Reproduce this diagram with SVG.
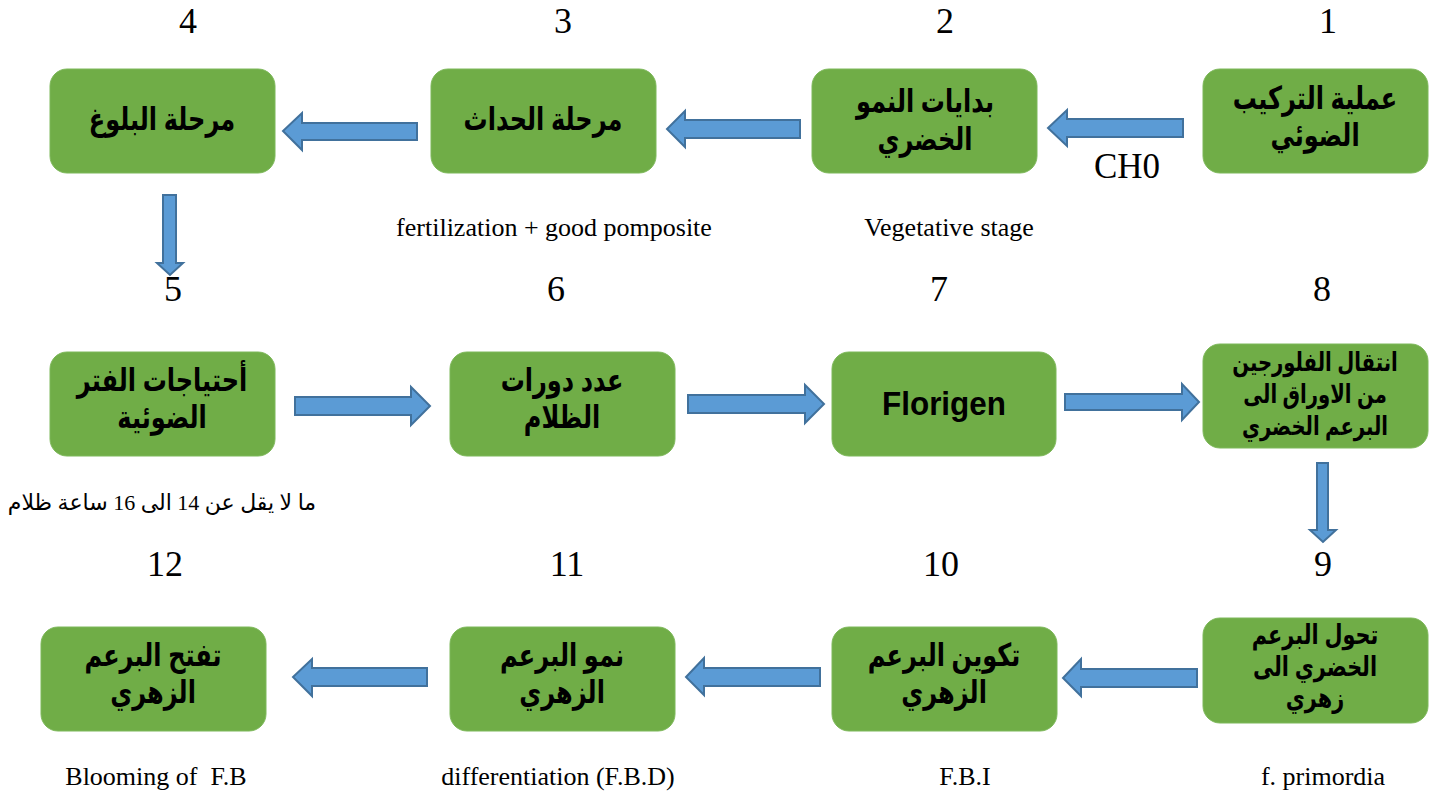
<svg xmlns="http://www.w3.org/2000/svg" width="1444" height="797" viewBox="0 0 1444 797">
<style>
.box{fill:#70AD47;stroke:#7DB85A;stroke-width:1}
.ar{font-family:"Liberation Sans","DejaVu Sans",sans-serif;font-weight:bold;font-size:30px;fill:#000;text-anchor:middle;direction:rtl}
.ar3{font-size:26px}
.ar8{font-size:24.5px}
.en{font-family:"Liberation Sans","DejaVu Sans",sans-serif;font-weight:bold;font-size:33px;fill:#000;text-anchor:middle}
.num{font-family:"Liberation Serif",serif;font-size:36px;fill:#000;text-anchor:middle}
.lbl{font-family:"Liberation Serif",serif;font-size:26px;fill:#000;text-anchor:middle;white-space:pre}
.note{font-family:"Liberation Serif","DejaVu Sans",serif;font-size:22px;fill:#000;text-anchor:middle;direction:rtl}
.arr{fill:#5B9BD5;stroke:#41719C;stroke-width:2;stroke-linejoin:miter}
</style>
<rect width="1444" height="797" fill="#fff"/>
<g id="connectors">
<path class="arr" d="M1183,119 L1183,137 L1067,137 L1067,146 L1048,128 L1067,110 L1067,119 Z"/>
<path class="arr" d="M800,120 L800,138 L685,138 L685,147 L667,129 L685,111 L685,120 Z"/>
<path class="arr" d="M417,123 L417,140 L302,140 L302,150 L283,131 L302,113 L302,123 Z"/>
<path class="arr" d="M163,195 L176,195 L176,263 L183,263 L170,275 L157,263 L163,263 Z"/>
<path class="arr" d="M295,397 L411,397 L411,387 L430,406 L411,425 L411,415 L295,415 Z"/>
<path class="arr" d="M688,395 L805,395 L805,385 L824,404 L805,423 L805,413 L688,413 Z"/>
<path class="arr" d="M1065,394 L1182,394 L1182,384 L1199,402 L1182,420 L1182,410 L1065,410 Z"/>
<path class="arr" d="M1317,463 L1328,463 L1328,530 L1336,530 L1323,542 L1310,530 L1317,530 Z"/>
<path class="arr" d="M1197,669 L1197,687 L1081,687 L1081,696 L1063,678 L1081,659 L1081,669 Z"/>
<path class="arr" d="M820,668 L820,686 L704,686 L704,695 L686,677 L704,658 L704,668 Z"/>
<path class="arr" d="M427,668 L427,686 L312,686 L312,696 L293,677 L312,659 L312,668 Z"/>
</g>
<g id="node1"><rect class="box" x="1203" y="69" width="225" height="104" rx="17"/><text class="ar" transform="translate(1315,109) scale(0.8,1.05)">عملية التركيب</text><text class="ar" transform="translate(1315,146) scale(0.8,1.05)">الضوئي</text></g>
<g id="node2"><rect class="box" x="812" y="69" width="225" height="104" rx="17"/><text class="ar" transform="translate(925,112) scale(0.8,1.05)">بدايات النمو</text><text class="ar" transform="translate(925,150) scale(0.8,1.05)">الخضري</text></g>
<g id="node3"><rect class="box" x="431" y="69" width="225" height="104" rx="17"/><text class="ar" transform="translate(543,130) scale(0.8,1.05)">مرحلة الحداث</text></g>
<g id="node4"><rect class="box" x="50" y="69" width="225" height="104" rx="17"/><text class="ar" transform="translate(162,130) scale(0.8,1.05)">مرحلة البلوغ</text></g>
<g id="node5"><rect class="box" x="50" y="352" width="225" height="104" rx="17"/><text class="ar" transform="translate(162,391) scale(0.8,1.05)">أحتياجات الفتر</text><text class="ar" transform="translate(162,428) scale(0.8,1.05)">الضوئية</text></g>
<g id="node6"><rect class="box" x="450" y="352" width="225" height="104" rx="17"/><text class="ar" transform="translate(562,391) scale(0.8,1.05)">عدد دورات</text><text class="ar" transform="translate(562,428) scale(0.8,1.05)">الظلام</text></g>
<g id="node7"><rect class="box" x="832" y="352" width="224" height="104" rx="17"/><text class="en" x="944" y="415" textLength="124" lengthAdjust="spacingAndGlyphs">Florigen</text></g>
<g id="node8"><rect class="box" x="1203" y="344" width="225" height="104" rx="17"/><text class="ar ar8" transform="translate(1315,371) scale(0.8,1.05)">انتقال الفلورجين</text><text class="ar ar8" transform="translate(1315,403) scale(0.8,1.05)">من الاوراق الى</text><text class="ar ar8" transform="translate(1315,435) scale(0.8,1.05)">البرعم الخضري</text></g>
<g id="node9"><rect class="box" x="1203" y="618" width="225" height="105" rx="17"/><text class="ar ar3" transform="translate(1315,644) scale(0.8,1.05)">تحول البرعم</text><text class="ar ar3" transform="translate(1315,676) scale(0.8,1.05)">الخضري الى</text><text class="ar ar3" transform="translate(1315,707) scale(0.8,1.05)">زهري</text></g>
<g id="node10"><rect class="box" x="832" y="627" width="225" height="104" rx="17"/><text class="ar" transform="translate(944,666) scale(0.8,1.05)">تكوين البرعم</text><text class="ar" transform="translate(944,703) scale(0.8,1.05)">الزهري</text></g>
<g id="node11"><rect class="box" x="450" y="627" width="225" height="104" rx="17"/><text class="ar" transform="translate(562,666) scale(0.8,1.05)">نمو البرعم</text><text class="ar" transform="translate(562,703) scale(0.8,1.05)">الزهري</text></g>
<g id="node12"><rect class="box" x="41" y="627" width="225" height="104" rx="17"/><text class="ar" transform="translate(153,666) scale(0.8,1.05)">تفتح البرعم</text><text class="ar" transform="translate(153,703) scale(0.8,1.05)">الزهري</text></g>
<g id="labels">
<text class="num" x="188" y="33">4</text>
<text class="num" x="563" y="33">3</text>
<text class="num" x="945" y="33">2</text>
<text class="num" x="1328" y="33">1</text>
<text class="num" x="173" y="301">5</text>
<text class="num" x="556" y="301">6</text>
<text class="num" x="939" y="301">7</text>
<text class="num" x="1322" y="301">8</text>
<text class="num" x="165" y="576">12</text>
<text class="num" x="567" y="576">11</text>
<text class="num" x="941" y="576">10</text>
<text class="num" x="1323" y="576">9</text>
<text class="lbl" x="1127" y="178" style="font-size:35px">CH0</text>
<text class="lbl" x="554" y="236">fertilization + good pomposite</text>
<text class="lbl" x="949" y="236">Vegetative stage</text>
<text class="note" x="162" y="510">ما لا يقل عن 14 الى 16 ساعة ظلام</text>
<text class="lbl" x="156" y="785" xml:space="preserve">Blooming of  F.B</text>
<text class="lbl" x="558" y="785">differentiation (F.B.D)</text>
<text class="lbl" x="965" y="785">F.B.I</text>
<text class="lbl" x="1323" y="785">f. primordia</text>
</g>
</svg>
